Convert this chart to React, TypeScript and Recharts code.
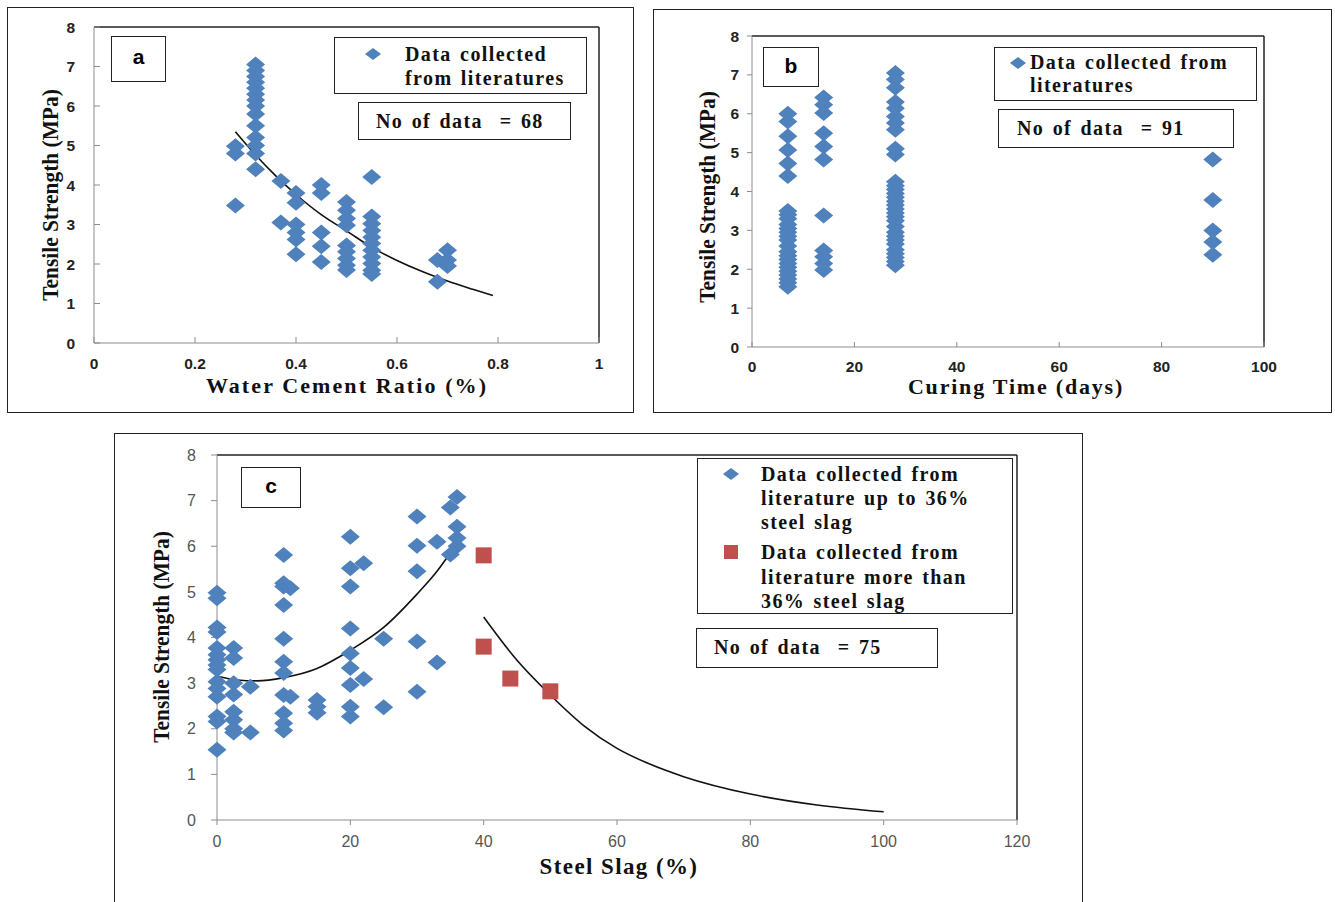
import { ComposedChart, Scatter, Line, XAxis, YAxis, ReferenceLine } from "recharts";

const BLUE = "#4F81BD";
const RED = "#C0504D";
const AXIS = "#8c8c8c";
const SERIF = "'Liberation Serif', 'Times New Roman', serif";
const SANS = "'Liberation Sans', Arial, sans-serif";

// (a) water cement ratio
const wcRatio = [0.28, 0.32, 0.37, 0.4, 0.45, 0.5, 0.55, 0.68, 0.7];
const wcStrength = [
  [4.98, 4.8, 3.48],
  [7.05, 6.9, 6.75, 6.6, 6.45, 6.3, 6.15, 6.0, 5.8, 5.5, 5.2, 5.0, 4.8, 4.4],
  [4.1, 3.05],
  [3.8, 3.55, 3.0, 2.8, 2.62, 2.25],
  [4.0, 3.8, 2.8, 2.45, 2.05],
  [3.57, 3.36, 3.15, 2.98, 2.47, 2.31, 2.14, 1.97, 1.85],
  [4.2, 3.2, 3.02, 2.85, 2.68, 2.52, 2.35, 2.18, 2.01, 1.84, 1.75],
  [2.1, 1.55],
  [2.35, 2.1, 1.95],
];
const wcFitX = [0.28, 0.32, 0.36, 0.4, 0.45, 0.5, 0.55, 0.6, 0.65, 0.7, 0.75, 0.79];
const wcFitY = [5.35, 4.76, 4.23, 3.76, 3.25, 2.84, 2.42, 2.09, 1.81, 1.57, 1.36, 1.2];
const wcTicks = [0, 0.2, 0.4, 0.6, 0.8, 1];

// (b) curing time
const curingDays = [7, 14, 28, 90];
const curingStrength = [
  [6.0, 5.8, 5.42, 5.07, 4.72, 4.4, 3.5, 3.4, 3.3, 3.15, 3.05, 2.95, 2.85, 2.75, 2.6, 2.45,
    2.35, 2.25, 2.15, 2.05, 1.95, 1.85, 1.75, 1.65, 1.55],
  [6.42, 6.23, 6.02, 5.5, 5.16, 4.82, 3.38, 2.48, 2.32, 2.15, 1.98],
  [7.05, 6.88, 6.67, 6.3, 6.14, 5.93, 5.76, 5.59, 5.1, 4.95, 4.25, 4.15, 4.05, 3.95, 3.85,
    3.75, 3.65, 3.55, 3.45, 3.35, 3.25, 3.1, 2.95, 2.85, 2.75, 2.65, 2.5, 2.4, 2.3, 2.2, 2.1],
  [4.82, 3.78, 3.0, 2.7, 2.37],
];
const dayTicks = [0, 20, 40, 60, 80, 100];

// (c) steel slag
const slagPct = [0, 2.5, 5, 10, 11, 15, 20, 22, 25, 30, 33, 35, 36];
const slagStrength = [
  [4.98, 4.86, 4.22, 4.12, 3.77, 3.62, 3.51, 3.4, 3.3, 3.03, 2.88, 2.7, 2.27, 2.16, 1.54],
  [3.77, 3.55, 3.0, 2.75, 2.37, 2.2, 2.0, 1.92],
  [2.92, 1.92],
  [5.81, 5.19, 5.12, 4.71, 3.97, 3.47, 3.22, 2.74, 2.34, 2.12, 1.96],
  [5.08, 2.7],
  [2.63, 2.48, 2.35],
  [6.21, 5.52, 5.12, 4.2, 3.65, 3.33, 2.96, 2.48, 2.27],
  [5.63, 3.09],
  [3.97, 2.47],
  [6.65, 6.01, 5.45, 3.91, 2.81],
  [6.1, 3.45],
  [6.85, 5.82],
  [7.08, 6.43, 6.18, 6.0],
];
const highSlagPct = [40, 40, 44, 50];
const highSlagStrength = [5.8, 3.8, 3.1, 2.82];
const lowFitX = [0, 3, 6, 10, 15, 20, 25, 30, 33, 36];
const lowFitY = [3.15, 3.07, 3.05, 3.12, 3.32, 3.72, 4.22, 4.95, 5.45, 6.07];
const highFitX = [40, 45, 50, 55, 60, 65, 70, 80, 90, 100];
const highFitY = [4.45, 3.5, 2.74, 2.07, 1.57, 1.22, 0.95, 0.57, 0.33, 0.18];
const slagTicks = [0, 20, 40, 60, 80, 100, 120];

const strengthTicks = [0, 1, 2, 3, 4, 5, 6, 7, 8];

function columns(xs: number[], ys: number[][]) {
  return xs.flatMap((x, i) => ys[i].map((y) => ({ x, y })));
}
function pairs(xs: number[], ys: number[]) {
  return xs.map((x, i) => ({ x, y: ys[i] }));
}

function Diamond(props: { cx?: number; cy?: number }) {
  const { cx, cy } = props;
  if (cx == null || cy == null) return null;
  return (
    <polygon
      points={`${cx},${cy - 8} ${cx + 9.5},${cy} ${cx},${cy + 8} ${cx - 9.5},${cy}`}
      fill={BLUE}
    />
  );
}

function Square(props: { cx?: number; cy?: number }) {
  const { cx, cy } = props;
  if (cx == null || cy == null) return null;
  return <rect x={cx - 8} y={cy - 8} width={16} height={16} fill={RED} />;
}

function Box({ l, t, w, h, children, style }: any) {
  return (
    <div
      style={{
        position: "absolute",
        left: l,
        top: t,
        width: w,
        height: h,
        border: "1.5px solid #222",
        boxSizing: "border-box",
        background: "#fff",
        ...style,
      }}
    >
      {children}
    </div>
  );
}

function Txt({ x, y, size = 20, children, style }: any) {
  return (
    <div
      style={{
        position: "absolute",
        left: x,
        top: y,
        transform: "translateY(-50%)",
        fontFamily: SERIF,
        fontWeight: 700,
        fontSize: size,
        letterSpacing: 1.4,
        wordSpacing: 2,
        whiteSpace: "pre",
        color: "#111",
        lineHeight: 1,
        ...style,
      }}
    >
      {children}
    </div>
  );
}

function YTitle({ x, y }: { x: number; y: number }) {
  return (
    <div
      style={{
        position: "absolute",
        left: x,
        top: y,
        transform: "translate(-50%, -50%) rotate(-90deg) scaleX(0.93)",
        fontFamily: SERIF,
        fontWeight: 700,
        fontSize: 23,
        whiteSpace: "nowrap",
        color: "#111",
        lineHeight: 1,
      }}
    >
      Tensile Strength (MPa)
    </div>
  );
}

function XTitle({ x, y, size = 22, spacing = 2, children }: any) {
  return (
    <div
      style={{
        position: "absolute",
        left: x,
        top: y,
        transform: "translate(-50%, -50%)",
        fontFamily: SERIF,
        fontWeight: 700,
        fontSize: size,
        letterSpacing: spacing,
        whiteSpace: "nowrap",
        color: "#111",
        lineHeight: 1,
      }}
    >
      {children}
    </div>
  );
}

function Marker({ x, y, kind }: { x: number; y: number; kind: "diamond" | "square" }) {
  return (
    <svg style={{ position: "absolute", left: x - 9, top: y - 8 }} width={18} height={16}>
      {kind === "diamond" ? (
        <polygon points="1,8 9,2 17,8 9,14" fill={BLUE} />
      ) : (
        <rect x={2} y={1} width={14} height={14} fill={RED} />
      )}
    </svg>
  );
}

const boldTick = { fill: "#222", fontSize: 15.5, fontWeight: 700, fontFamily: SANS };
const plainTick = { fill: "#555", fontSize: 16, fontFamily: SANS };

export default function App() {
  const wcPoints = columns(wcRatio, wcStrength);
  const wcFit = pairs(wcFitX, wcFitY);
  const curingPoints = columns(curingDays, curingStrength);
  const slagPoints = columns(slagPct, slagStrength);
  const highSlagPoints = pairs(highSlagPct, highSlagStrength);
  const lowFit = pairs(lowFitX, lowFitY);
  const highFit = pairs(highFitX, highFitY);

  return (
    <div
      style={{
        position: "absolute",
        left: 0,
        top: 0,
        width: 1335,
        height: 902,
        background: "#fff",
        overflow: "hidden",
      }}
    >
      {/* panel a */}
      <Box l={7} t={7} w={627} h={406} />
      <div style={{ position: "absolute", left: 8, top: 8 }}>
        <ComposedChart width={625} height={404} margin={{ top: 19, right: 34, bottom: 39, left: 46 }}>
          <XAxis
            type="number"
            dataKey="x"
            domain={[0, 1]}
            ticks={wcTicks}
            interval={0}
            stroke={AXIS}
            tickSize={-6}
            tickMargin={21}
            tick={boldTick}
          />
          <YAxis
            type="number"
            dataKey="y"
            domain={[0, 8]}
            ticks={strengthTicks}
            interval={0}
            width={40}
            stroke={AXIS}
            tickSize={-6}
            tickMargin={25}
            tick={boldTick}
          />
          <ReferenceLine y={8} stroke="#222" strokeWidth={1.5} />
          <ReferenceLine x={1} stroke="#222" strokeWidth={1.5} />
          <Scatter data={wcPoints} shape={(p: any) => <Diamond {...p} />} isAnimationActive={false} />
          <Line
            data={wcFit}
            dataKey="y"
            type="monotone"
            stroke="#111"
            strokeWidth={1.6}
            dot={false}
            isAnimationActive={false}
          />
        </ComposedChart>
      </div>
      <Box l={111} t={36} w={55} h={46}>
        <div style={{ fontFamily: SANS, fontWeight: 700, fontSize: 21, textAlign: "center", lineHeight: "40px" }}>a</div>
      </Box>
      <Box l={334} t={37} w={253} h={57} />
      <Marker x={373} y={54} kind="diamond" />
      <Txt x={405} y={54}>Data collected</Txt>
      <Txt x={405} y={78}>from literatures</Txt>
      <Box l={358} t={102} w={213} h={38} />
      <Txt x={376} y={121}>{"No of data  = 68"}</Txt>
      <YTitle x={50} y={195} />
      <XTitle x={347} y={386} size={22} spacing={2.1}>Water Cement Ratio (%)</XTitle>

      {/* panel b */}
      <Box l={653} t={9} w={679} h={404} />
      <div style={{ position: "absolute", left: 654, top: 10 }}>
        <ComposedChart width={677} height={402} margin={{ top: 26, right: 67, bottom: 35, left: 58 }}>
          <XAxis
            type="number"
            dataKey="x"
            domain={[0, 100]}
            ticks={dayTicks}
            interval={0}
            stroke={AXIS}
            tickSize={-5}
            tickMargin={19}
            tick={boldTick}
          />
          <YAxis
            type="number"
            dataKey="y"
            domain={[0, 8]}
            ticks={strengthTicks}
            interval={0}
            width={40}
            stroke={AXIS}
            tickSize={5}
            tickMargin={8}
            tick={boldTick}
          />
          <ReferenceLine y={8} stroke="#222" strokeWidth={1.5} />
          <ReferenceLine x={100} stroke="#222" strokeWidth={1.5} />
          <Scatter data={curingPoints} shape={(p: any) => <Diamond {...p} />} isAnimationActive={false} />
        </ComposedChart>
      </div>
      <Box l={763} t={47} w={56} h={40}>
        <div style={{ fontFamily: SANS, fontWeight: 700, fontSize: 21, textAlign: "center", lineHeight: "36px" }}>b</div>
      </Box>
      <Box l={994} t={47} w={263} h={54} />
      <Marker x={1018} y={63} kind="diamond" />
      <Txt x={1030} y={62}>Data collected from</Txt>
      <Txt x={1030} y={85}>literatures</Txt>
      <Box l={998} t={109} w={236} h={39} />
      <Txt x={1017} y={128}>{"No of data  = 91"}</Txt>
      <YTitle x={707} y={197} />
      <XTitle x={1016} y={387} size={22} spacing={1.8}>Curing Time (days)</XTitle>

      {/* panel c */}
      <Box l={114} t={433} w={969} h={480} />
      <div style={{ position: "absolute", left: 115, top: 434 }}>
        <ComposedChart width={967} height={468} margin={{ top: 21, right: 65, bottom: 52, left: 62 }}>
          <XAxis
            type="number"
            dataKey="x"
            domain={[0, 120]}
            ticks={slagTicks}
            interval={0}
            stroke={AXIS}
            tickSize={5}
            tickMargin={11}
            tick={plainTick}
          />
          <YAxis
            type="number"
            dataKey="y"
            domain={[0, 8]}
            ticks={strengthTicks}
            interval={0}
            width={40}
            stroke={AXIS}
            tickSize={6}
            tickMargin={15}
            tick={plainTick}
          />
          <ReferenceLine y={8} stroke="#222" strokeWidth={1.5} />
          <ReferenceLine x={120} stroke="#222" strokeWidth={1.5} />
          <Scatter data={slagPoints} shape={(p: any) => <Diamond {...p} />} isAnimationActive={false} />
          <Scatter data={highSlagPoints} shape={(p: any) => <Square {...p} />} isAnimationActive={false} />
          <Line
            data={lowFit}
            dataKey="y"
            type="monotone"
            stroke="#111"
            strokeWidth={1.6}
            dot={false}
            isAnimationActive={false}
          />
          <Line
            data={highFit}
            dataKey="y"
            type="monotone"
            stroke="#111"
            strokeWidth={1.6}
            dot={false}
            isAnimationActive={false}
          />
        </ComposedChart>
      </div>
      <Box l={241} t={467} w={60} h={41}>
        <div style={{ fontFamily: SANS, fontWeight: 700, fontSize: 21, textAlign: "center", lineHeight: "36px" }}>c</div>
      </Box>
      <Box l={697} t={458} w={316} h={156} />
      <Marker x={731} y={474} kind="diamond" />
      <Txt x={761} y={474}>Data collected from</Txt>
      <Txt x={761} y={498}>literature up to 36%</Txt>
      <Txt x={761} y={522}>steel slag</Txt>
      <Marker x={731} y={552} kind="square" />
      <Txt x={761} y={552}>Data collected from</Txt>
      <Txt x={761} y={577}>literature more than</Txt>
      <Txt x={761} y={601}>36% steel slag</Txt>
      <Box l={696} t={628} w={242} h={40} />
      <Txt x={714} y={647}>{"No of data  = 75"}</Txt>
      <YTitle x={161} y={637} />
      <XTitle x={619} y={866} size={23} spacing={1.4}>Steel Slag (%)</XTitle>
    </div>
  );
}
